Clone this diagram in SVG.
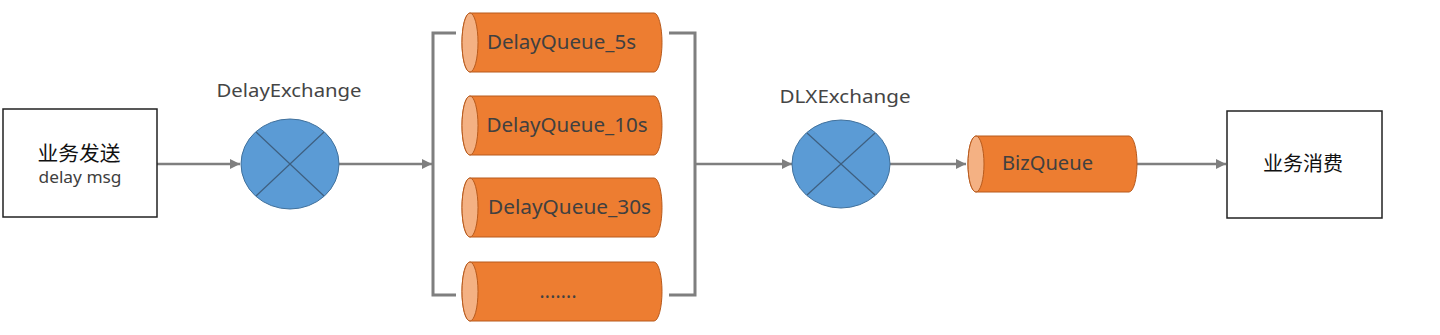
<svg xmlns="http://www.w3.org/2000/svg" width="1440" height="335" viewBox="0 0 1440 335">
<style>
.box{fill:#fff;stroke:#222;stroke-width:1.5}
.ex{fill:#5b9bd5;stroke:#41719c;stroke-width:1}
.xl{stroke:#3e5f80;stroke-width:1.2}
.body{fill:#ed7d31;stroke:#b85a1c;stroke-width:1}
.cap{fill:#f4b183;stroke:#b85a1c;stroke-width:1}
.conn{fill:none;stroke:#7f7f7f;stroke-width:2.5}
.br{fill:none;stroke:#7f7f7f;stroke-width:3}
text{font-family:"Noto Sans","Open Sans","Noto Sans CJK SC",sans-serif;fill:#404040}
.q{font-size:19px}
.lbl{font-size:18px;fill:#454545}
.cn{font-family:"Noto Sans CJK SC","Noto Sans",sans-serif;font-size:20px;fill:#111}
</style>
<defs>
<marker id="ah" viewBox="0 0 10 10" refX="10" refY="5" markerWidth="4" markerHeight="4" orient="auto" markerUnits="strokeWidth">
<path d="M0,0 L10,5 L0,10 z" fill="#7f7f7f"/>
</marker>
</defs>
<g id="connectors">
<line class="conn" x1="157" y1="164" x2="240" y2="164" marker-end="url(#ah)"/>
<line class="conn" x1="339" y1="164" x2="432" y2="164" marker-end="url(#ah)"/>
<path class="br" d="M456,33 H433 V295 H456"/>
<path class="br" d="M669,33 H695 V295 H669"/>
<line class="conn" x1="695" y1="164" x2="792" y2="164" marker-end="url(#ah)"/>
<line class="conn" x1="890" y1="164" x2="966" y2="164" marker-end="url(#ah)"/>
<line class="conn" x1="1137" y1="164" x2="1226" y2="164" marker-end="url(#ah)"/>
</g>
<g id="send">
<rect class="box" x="3" y="109" width="154" height="108"/>
<text class="cn" x="79" y="161" text-anchor="middle" textLength="83" lengthAdjust="spacingAndGlyphs">业务发送</text>
<text x="80" y="183" text-anchor="middle" font-size="16" fill="#111" textLength="83" lengthAdjust="spacingAndGlyphs">delay msg</text>
</g>
<g id="delayExchange">
<ellipse class="ex" cx="290" cy="164" rx="49" ry="45"/>
<line class="xl" x1="256" y1="132" x2="324" y2="196"/>
<line class="xl" x1="324" y1="132" x2="256" y2="196"/>
<text class="lbl" x="289" y="97" text-anchor="middle" textLength="145" lengthAdjust="spacingAndGlyphs">DelayExchange</text>
</g>
<g id="q5">
<rect class="body" x="462" y="13" width="200" height="59" rx="8" ry="29.5"/>
<ellipse class="cap" cx="470" cy="42.5" rx="8" ry="29.5"/>
<text class="q" x="561.5" y="49" text-anchor="middle" textLength="149" lengthAdjust="spacingAndGlyphs">DelayQueue_5s</text>
</g>
<g id="q10">
<rect class="body" x="462" y="96" width="200" height="59" rx="8" ry="29.5"/>
<ellipse class="cap" cx="470" cy="125.5" rx="8" ry="29.5"/>
<text class="q" x="567" y="132" text-anchor="middle" textLength="161" lengthAdjust="spacingAndGlyphs">DelayQueue_10s</text>
</g>
<g id="q30">
<rect class="body" x="462" y="178" width="200" height="59" rx="8" ry="29.5"/>
<ellipse class="cap" cx="470" cy="207.5" rx="8" ry="29.5"/>
<text class="q" x="569.5" y="214" text-anchor="middle" textLength="163" lengthAdjust="spacingAndGlyphs">DelayQueue_30s</text>
</g>
<g id="qmore">
<rect class="body" x="462" y="262" width="200" height="59" rx="8" ry="29.5"/>
<ellipse class="cap" cx="470" cy="291.5" rx="8" ry="29.5"/>
<text class="q" x="558" y="298" text-anchor="middle" textLength="37" lengthAdjust="spacing">.......</text>
</g>
<g id="dlxExchange">
<ellipse class="ex" cx="841" cy="164" rx="49" ry="44"/>
<line class="xl" x1="807" y1="133" x2="875" y2="195"/>
<line class="xl" x1="875" y1="133" x2="807" y2="195"/>
<text class="lbl" x="845" y="103" text-anchor="middle" textLength="131" lengthAdjust="spacingAndGlyphs">DLXExchange</text>
</g>
<g id="bizQueue">
<rect class="body" x="968" y="136" width="169" height="56" rx="8" ry="28"/>
<ellipse class="cap" cx="976" cy="164" rx="8" ry="28"/>
<text class="q" x="1047.5" y="170" text-anchor="middle" textLength="91" lengthAdjust="spacingAndGlyphs">BizQueue</text>
</g>
<g id="consume">
<rect class="box" x="1227" y="111" width="155" height="107"/>
<text class="cn" x="1303" y="171" text-anchor="middle" textLength="80" lengthAdjust="spacingAndGlyphs">业务消费</text>
</g>
</svg>
